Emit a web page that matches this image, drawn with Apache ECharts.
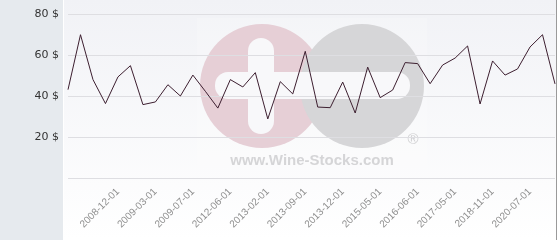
<!DOCTYPE html>
<html><head><meta charset="utf-8">
<script src="https://cdn.jsdelivr.net/npm/echarts@6/dist/echarts.min.js"></script>
<style>html,body{margin:0;padding:0;background:#fff}#c{width:560px;height:240px}</style>
</head><body><div id="c"></div>
<script>
const dates = ['2008-08-01','2008-09-01','2008-10-01','2008-11-01','2008-12-01','2009-01-01','2009-02-01','2009-03-01','2009-04-01','2009-05-01',
'2009-07-01','2010-06-01','2011-06-01','2012-06-01','2012-09-01','2012-12-01','2013-02-01','2013-04-01','2013-07-01','2013-09-01',
'2013-10-01','2013-11-01','2013-12-01','2014-06-01','2014-11-01','2015-05-01','2015-09-01','2016-01-01','2016-06-01','2016-10-01',
'2017-01-01','2017-05-01','2017-11-01','2018-05-01','2018-11-01','2019-05-01','2019-12-01','2020-07-01','2021-01-01','2021-06-01'];
const prices = [43.1,69.9,48.0,36.3,49.3,54.8,35.8,37.1,45.5,40.0,
50.2,42.3,34.1,48.0,44.4,51.4,28.8,47.0,41.0,61.8,
34.6,34.3,46.8,31.7,54.1,39.2,42.9,56.3,55.8,46.0,
55.1,58.5,64.4,36.1,57.1,50.2,53.2,63.9,69.9,45.9];
const yTicks = [0,20,40,60,80];

const chart = echarts.init(document.getElementById('c'));
chart.setOption({
  animation:false,
  backgroundColor:'#ffffff',
  graphic:[
    {type:'rect',z:-20,silent:true,shape:{x:0,y:0,width:63,height:240},style:{fill:'#e6eaee'}},
    {type:'rect',z:-20,silent:true,shape:{x:64,y:0,width:492,height:240},
      style:{fill:new echarts.graphic.LinearGradient(0,0,0,1,[{offset:0,color:'#f1f2f6'},{offset:1,color:'#ffffff'}])}},
    {type:'rect',z:-20,silent:true,shape:{x:556,y:0,width:1,height:240},style:{fill:'#9a9a9a'}},
    {type:'rect',z:-19,silent:true,shape:{x:197,y:18,width:230,height:158},style:{fill:'rgba(255,255,255,0.18)'}},
    {type:'circle',z:-18,silent:true,shape:{cx:262,cy:86,r:62},style:{fill:'#e6cfd6'}},
    {type:'circle',z:-17,silent:true,shape:{cx:362,cy:86,r:62},style:{fill:'#d6d6d8'}},
    {type:'rect',z:-16,silent:true,shape:{x:248,y:38,width:26,height:96,r:13},style:{fill:'#f8f8fa'}},
    {type:'rect',z:-16,silent:true,shape:{x:215,y:72,width:195,height:27,r:13},style:{fill:'#f8f8fa'}},
    {type:'text',z:-16,silent:true,style:{x:312,y:161,text:'www.Wine-Stocks.com',fill:'#d5d5d7',
      font:'bold 15px "Liberation Sans", Arial, sans-serif',textAlign:'center',textVerticalAlign:'middle'}},
    {type:'text',z:-16,silent:true,style:{x:413,y:140,text:'®',fill:'#d0d0d2',
      font:'15px "Liberation Sans", Arial, sans-serif',textAlign:'center',textVerticalAlign:'middle'}}
  ],
  grid:{left:68,right:5,top:14,bottom:62,containLabel:false},
  xAxis:{type:'category',data:dates,boundaryGap:false,
    axisLine:{show:false},axisTick:{show:false},
    axisLabel:{rotate:45,color:'#8e8e8e',fontSize:10,fontFamily:'"Liberation Sans", Arial, sans-serif',margin:12,
      interval:function(i){return i>=4 && (i-4)%3===0;}},
    splitLine:{show:false}},
  yAxis:{type:'value',min:yTicks[0],max:yTicks[yTicks.length-1],interval:20,
    axisLine:{show:false},axisTick:{show:false},
    axisLabel:{color:'#333',fontSize:11,fontFamily:'"DejaVu Sans", sans-serif',margin:9,
      formatter:function(v){return v===0?'':v+' $';}},
    splitLine:{show:true,lineStyle:{color:'#dedee2',width:1}}},
  series:[{type:'line',data:prices,showSymbol:false,symbol:'none',
    lineStyle:{color:'#3d1f30',width:1},z:5}]
});
</script></body></html>
